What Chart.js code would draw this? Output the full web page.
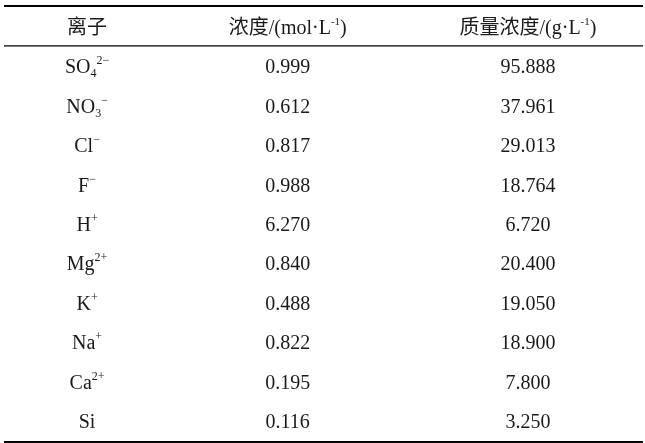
<!DOCTYPE html>
<html>
<head>
<meta charset="utf-8">
<script src="https://cdn.jsdelivr.net/npm/chart.js@4"></script>
<style>
  html, body { margin: 0; padding: 0; background: #fff; }
  #wrap { width: 645px; height: 443px; position: relative; }
</style>
</head>
<body>
<div id="wrap"><canvas id="ionTable"></canvas></div>
<script>
// table contents
const ionBase = ['SO', 'NO', 'Cl', 'F', 'H', 'Mg', 'K', 'Na', 'Ca', 'Si']
const ionSub = ['4', '3', '', '', '', '', '', '', '', '']
const ionSup = ['2−', '−', '−', '−', '+', '2+', '+', '+', '2+', '']
const molConc = [0.999, 0.612, 0.817, 0.988, 6.270, 0.840, 0.488, 0.822, 0.195, 0.116]
const massConc = [95.888, 37.961, 29.013, 18.764, 6.720, 20.400, 19.050, 18.900, 7.800, 3.250]
const headerText = ['离子', '浓度/(mol·L', '质量浓度/(g·L']
const headerSup = ['', '-1', '-1']
const headerTail = ['', ')', ')']

// column centres as a fraction of the table width
const COL_POS = [0.13, 0.444, 0.82]
const FONT = '"Liberation Serif", "Noto Sans CJK SC", serif'

/**
 * Draws a run of text pieces (normal, sub, sup) centred on cx, cy.
 */
const drawRich = (ctx, parts, cx, cy) => {
  let total = 0
  parts.forEach((p) => {
    ctx.font = `${p.size}px ${FONT}`
    p.w = ctx.measureText(p.text).width
    total += p.w
  })
  let x = cx - total / 2
  parts.forEach((p) => {
    ctx.font = `${p.size}px ${FONT}`
    ctx.fillText(p.text, x, cy + 7 + p.dy)
    x += p.w
  })
}

const cellPoints = (col) => molConc.map((_, i) => ({ x: COL_POS[col], y: i + 1 }))

const tablePlugin = {
  id: 'tableText',
  afterDatasetsDraw (chart) {
    const { ctx, chartArea, scales } = chart
    const xs = scales.x
    const ys = scales.y
    ctx.save()
    ctx.fillStyle = '#1a1a1a'
    ctx.textAlign = 'left'
    ctx.textBaseline = 'alphabetic'

    // header row
    const hy = ys.getPixelForValue(0)
    headerText.forEach((t, k) => {
      const parts = [{ text: t, size: 20, dy: 0 }]
      if (headerSup[k]) parts.push({ text: headerSup[k], size: 11, dy: -9 })
      if (headerTail[k]) parts.push({ text: headerTail[k], size: 20, dy: 0 })
      drawRich(ctx, parts, xs.getPixelForValue(COL_POS[k]), hy)
    })

    // ion names
    chart.getDatasetMeta(0).data.forEach((pt, i) => {
      const parts = [{ text: ionBase[i], size: 20, dy: 0 }]
      if (ionSub[i]) parts.push({ text: ionSub[i], size: 12, dy: 4 })
      if (ionSup[i]) parts.push({ text: ionSup[i], size: 12, dy: -9 })
      drawRich(ctx, parts, pt.x, pt.y)
    })

    // numeric columns
    chart.getDatasetMeta(1).data.forEach((pt, i) => {
      drawRich(ctx, [{ text: molConc[i].toFixed(3), size: 20, dy: 0 }], pt.x, pt.y)
    })
    chart.getDatasetMeta(2).data.forEach((pt, i) => {
      drawRich(ctx, [{ text: massConc[i].toFixed(3), size: 20, dy: 0 }], pt.x, pt.y)
    })

    // three-line table rules
    const rule = (y, w) => {
      ctx.beginPath()
      ctx.lineWidth = w
      ctx.strokeStyle = '#000'
      ctx.moveTo(chartArea.left, y)
      ctx.lineTo(chartArea.right, y)
      ctx.stroke()
    }
    rule(ys.getPixelForValue(ys.min) + 1, 2)
    rule(ys.getPixelForValue(0.5) - 0.5, 1.3)
    rule(ys.getPixelForValue(ys.max) - 1, 2)
    ctx.restore()
  }
}

new Chart(document.getElementById('ionTable'), {
  type: 'scatter',
  data: {
    datasets: [
      { label: '离子', data: cellPoints(0), pointRadius: 0 },
      { label: '浓度', data: cellPoints(1), pointRadius: 0 },
      { label: '质量浓度', data: cellPoints(2), pointRadius: 0 }
    ]
  },
  options: {
    responsive: true,
    maintainAspectRatio: false,
    animation: false,
    events: [],
    layout: { padding: { left: 4, right: 2, top: 5, bottom: 0 } },
    plugins: {
      legend: { display: false },
      tooltip: { enabled: false }
    },
    scales: {
      x: { type: 'linear', display: false, min: 0, max: 1 },
      y: { type: 'linear', display: false, reverse: true, min: -0.55, max: 10.55 }
    }
  },
  plugins: [tablePlugin]
})
</script>
</body>
</html>
